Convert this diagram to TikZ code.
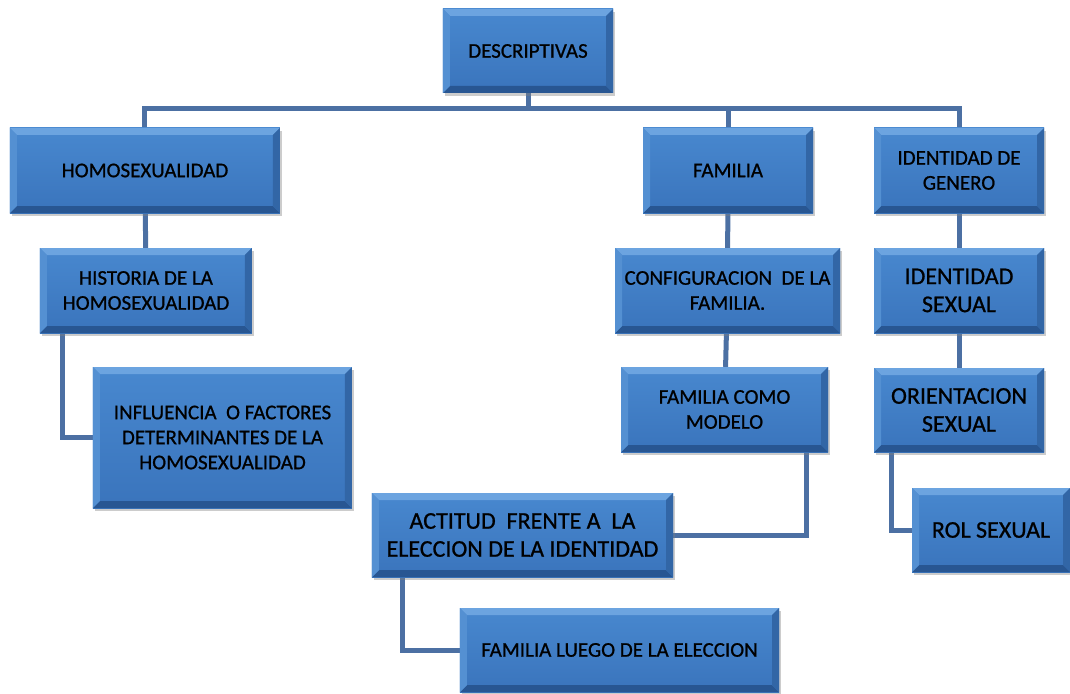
\documentclass[tikz,border=0pt]{standalone}
\usepackage{fontspec}
\setmainfont{Carlito}
\newfontfamily\boxfont{Carlito}[FakeBold=0.8]
\usepackage{xcolor}
\usepackage{tikz}
\usetikzlibrary{calc, shadows, backgrounds, positioning}
\definecolor{facetop}{RGB}{72,136,207}
\definecolor{facebottom}{RGB}{58,116,188}
\definecolor{bevtop}{RGB}{108,164,224}
\definecolor{bevleft}{RGB}{84,144,210}
\definecolor{bevright}{RGB}{50,102,166}
\definecolor{bevbottom}{RGB}{40,86,146}
\definecolor{linkblue}{RGB}{76,112,163}
\tikzset{
    bevel/.style = {path picture={
        \coordinate (pnw) at (path picture bounding box.north west);
        \coordinate (pne) at (path picture bounding box.north east);
        \coordinate (psw) at (path picture bounding box.south west);
        \coordinate (pse) at (path picture bounding box.south east);
        \fill[bevtop] (pnw) -- (pne) -- ($(pne)+(-7pt,-7pt)$) -- ($(pnw)+(7pt,-7pt)$) -- cycle;
        \fill[bevbottom] (psw) -- (pse) -- ($(pse)+(-7pt,7pt)$) -- ($(psw)+(7pt,7pt)$) -- cycle;
        \fill[bevleft] (pnw) -- ($(pnw)+(7pt,-7pt)$) -- ($(psw)+(7pt,7pt)$) -- (psw) -- cycle;
        \fill[bevright] (pne) -- ($(pne)+(-7pt,-7pt)$) -- ($(pse)+(-7pt,7pt)$) -- (pse) -- cycle;
      }},
    boxnode/.style = {rectangle, top color=facetop, bottom color=facebottom, inner sep=0pt,
      node distance=0em, align=center, text=black, font=\boxfont\fontsize{21}{25}\selectfont,
      drop shadow={opacity=0.4, shadow xshift=2pt, shadow yshift=-3pt}, bevel},
    bignode/.style = {boxnode, font=\boxfont\fontsize{24}{28}\selectfont},
    connect/.style = {linkblue, line width=5pt}
}

\begin{document}
\begin{tikzpicture}
    \useasboundingbox (-528pt,51pt) rectangle (542pt,-642pt);

    \node [name=descr, boxnode, minimum width=170pt, minimum height=84pt] {DESCRIPTIVAS};

    % left branch
    \node [name=homo, boxnode, minimum width=270pt, minimum height=85pt,
        below of = descr, xshift=-383pt, yshift=-119.5pt] {HOMOSEXUALIDAD};
    \node [name=hist, boxnode, minimum width=212pt, minimum height=85pt,
        below of = descr, xshift=-382pt, yshift=-239.5pt] {HISTORIA DE LA\\HOMOSEXUALIDAD};
    \node [name=infl, boxnode, minimum width=259pt, minimum height=141pt,
        below of = descr, xshift=-305.5pt, yshift=-386.5pt] {INFLUENCIA\ \ O FACTORES\\DETERMINANTES DE LA\\HOMOSEXUALIDAD};

    % middle branch
    \node [name=fam, boxnode, minimum width=170pt, minimum height=85pt,
        below of = descr, xshift=200pt, yshift=-119.5pt] {FAMILIA};
    \node [name=config, boxnode, minimum width=225pt, minimum height=85pt,
        below of = descr, xshift=199.5pt, yshift=-239.5pt] {CONFIGURACION\ \ DE LA\\FAMILIA.};
    \node [name=modelo, boxnode, minimum width=207pt, minimum height=85pt,
        below of = descr, xshift=196.5pt, yshift=-358.5pt] {FAMILIA COMO\\MODELO};
    \node [name=actitud, bignode, minimum width=301pt, minimum height=84pt,
        below of = descr, xshift=-5.5pt, yshift=-484pt] {ACTITUD\ \ FRENTE A\ \ LA\\ELECCION DE LA IDENTIDAD};
    \node [name=luego, boxnode, minimum width=319pt, minimum height=84pt,
        below of = descr, xshift=91.5pt, yshift=-599pt] {FAMILIA LUEGO DE LA ELECCION};

    % right branch
    \node [name=idgen, boxnode, minimum width=170pt, minimum height=85pt,
        below of = descr, xshift=431pt, yshift=-119.5pt] {IDENTIDAD DE\\GENERO};
    \node [name=idsex, bignode, minimum width=170pt, minimum height=85pt,
        below of = descr, xshift=431pt, yshift=-239.5pt] {IDENTIDAD\\SEXUAL};
    \node [name=orient, bignode, minimum width=170pt, minimum height=84pt,
        below of = descr, xshift=431pt, yshift=-359pt] {ORIENTACION\\SEXUAL};
    \node [name=rol, bignode, minimum width=158pt, minimum height=84pt,
        below of = descr, xshift=463pt, yshift=-479pt] {ROL SEXUAL};

    \begin{scope}[on background layer]
        \coordinate (bus) at ($(descr.south)+(0,-15pt)$);
        \draw [connect] (descr.south) -- (bus);
        \draw [connect] (homo.north) |- (bus) -| (idgen.north);
        \draw [connect] (bus -| fam.north) -- (fam.north);

        \draw [connect] (homo) -- (hist);
        \draw [connect] ([xshift=23pt]hist.south west) |- (infl.west);

        \draw [connect] (fam) -- (config);
        \draw [connect] (config) -- (modelo);
        \draw [connect] ([xshift=-22pt]modelo.south east) |- (actitud.east);
        \draw [connect] ([xshift=31pt]actitud.south west) |- (luego.west);

        \draw [connect] (idgen) -- (idsex);
        \draw [connect] (idsex) -- (orient);
        \draw [connect] ([xshift=18pt]orient.south west) |- (rol.west);
    \end{scope}
\end{tikzpicture}
\end{document}
